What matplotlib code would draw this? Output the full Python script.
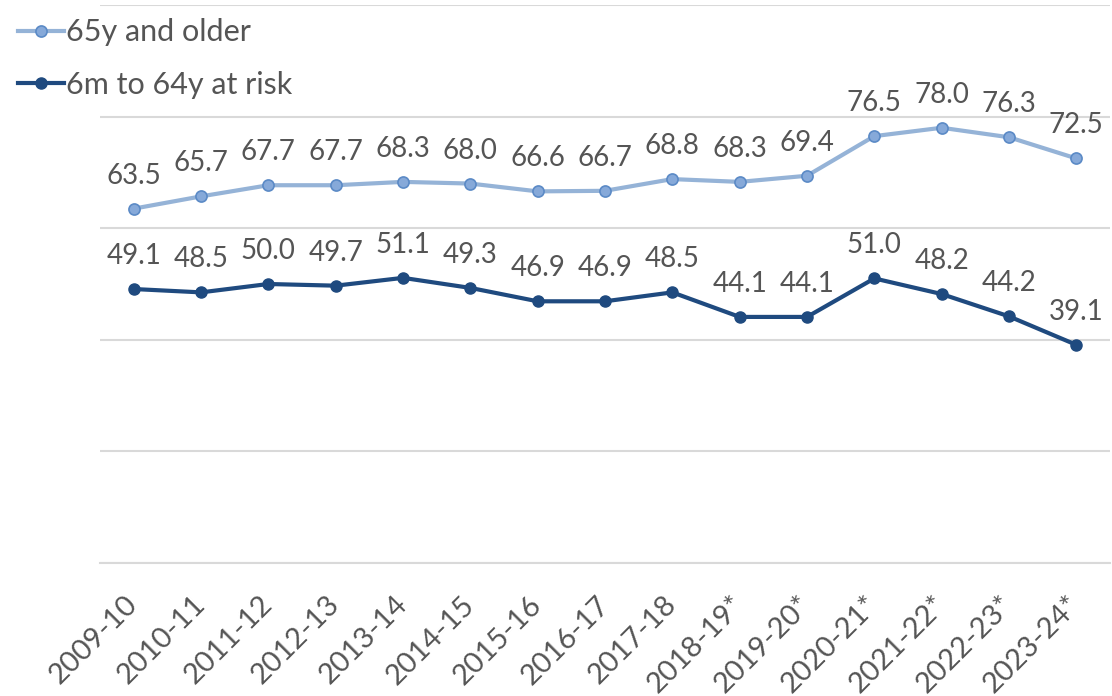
import matplotlib
matplotlib.use('Agg')
import matplotlib.pyplot as plt

plt.rcParams['font.family'] = ['Lato', 'DejaVu Sans']

seasons = ['2009-10', '2010-11', '2011-12', '2012-13', '2013-14', '2014-15', '2015-16',
           '2016-17', '2017-18', '2018-19*', '2019-20*', '2020-21*', '2021-22*',
           '2022-23*', '2023-24*']
older_65 = [63.5, 65.7, 67.7, 67.7, 68.3, 68.0, 66.6, 66.7, 68.8, 68.3, 69.4, 76.5, 78.0, 76.3, 72.5]
at_risk = [49.1, 48.5, 50.0, 49.7, 51.1, 49.3, 46.9, 46.9, 48.5, 44.1, 44.1, 51.0, 48.2, 44.2, 39.1]

text_col = '#555555'
grid_col = '#d9d9d9'

fig = plt.figure(figsize=(11.12, 6.96), dpi=100)
ax = fig.add_axes([100 / 1112, 1 - 563 / 696, 1010 / 1112, 558 / 696])

x = list(range(len(seasons)))
ax.plot(x, older_65, color='#95b3d7', lw=3, marker='o', ms=8,
        mfc='#86a9d9', mec='#5b8ac6', mew=1.2, label='65y and older', zorder=3)
ax.plot(x, at_risk, color='#1f4a7f', lw=3, marker='o', ms=8,
        mfc='#1f4a7f', mec='#1f4a7f', label='6m to 64y at risk', zorder=3)

# data labels
for xi, v in zip(x, older_65):
    ax.annotate(f'{v:.1f}', (xi, v), xytext=(0, 18), textcoords='offset points',
                ha='center', va='baseline', fontsize=20, color=text_col)
for xi, v in zip(x, at_risk):
    ax.annotate(f'{v:.1f}', (xi, v), xytext=(0, 18), textcoords='offset points',
                ha='center', va='baseline', fontsize=20, color=text_col)

ax.set_xlim(-0.5, len(seasons) - 0.5)
ax.set_ylim(0, 100)
ax.set_yticks([0, 20, 40, 60, 80, 100])
ax.yaxis.grid(True, color=grid_col, lw=1.5)
ax.set_axisbelow(True)
ax.tick_params(axis='y', left=False, labelleft=False)
ax.tick_params(axis='x', length=0, pad=27)
ax.set_xticks(x)
ax.set_xticklabels(seasons, rotation=45, ha='right', va='center',
                   rotation_mode='anchor', fontsize=21, color=text_col)
for s in ['top', 'left', 'right']:
    ax.spines[s].set_visible(False)
ax.spines['bottom'].set_color(grid_col)
ax.spines['bottom'].set_linewidth(1.5)

fig.legend(loc='upper left', bbox_to_anchor=(0.0, 1.0), frameon=False,
           fontsize=22, labelcolor=text_col, handlelength=1.5, handletextpad=0.05,
           labelspacing=0.8, borderaxespad=0.3, borderpad=0.3)

plt.savefig('out.png', dpi=100)
